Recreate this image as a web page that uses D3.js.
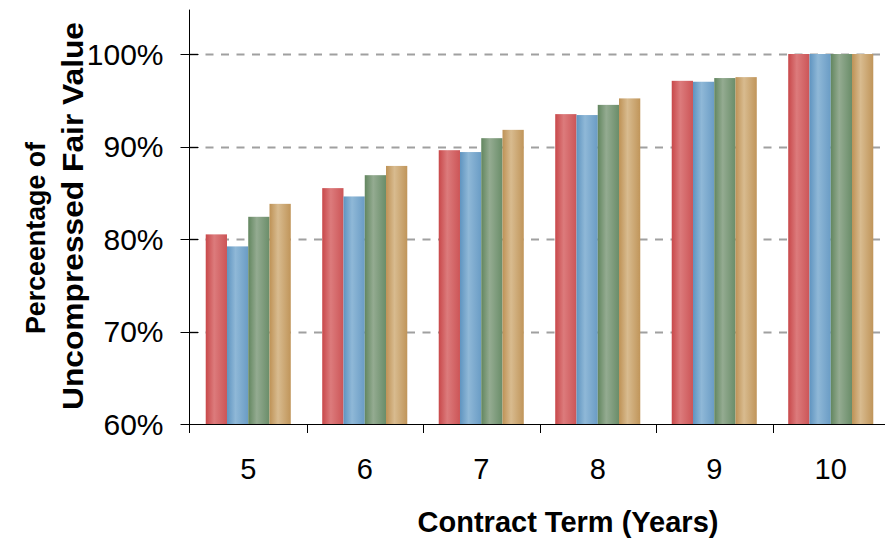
<!DOCTYPE html>
<html>
<head>
<meta charset="utf-8">
<script src="https://cdn.jsdelivr.net/npm/d3@7/dist/d3.min.js"></script>
<style>
  html, body { margin: 0; padding: 0; background: #fff; }
  svg { display: block; font-family: "Liberation Sans", Arial, sans-serif; }
</style>
</head>
<body>
<svg id="chart" width="885" height="542"></svg>
<script>
// Contract terms (years) on the x axis
const terms = ["5", "6", "7", "8", "9", "10"];
// Four series, value as percentage of uncompressed fair value
const seriesNames = ["A", "B", "C", "D"];
const seriesA = [80.5, 85.5, 89.6, 93.5, 97.1, 100];
const seriesB = [79.2, 84.6, 89.4, 93.4, 97.0, 100];
const seriesC = [82.4, 86.9, 90.9, 94.5, 97.4, 100];
const seriesD = [83.8, 87.9, 91.8, 95.2, 97.5, 100];
const yTicks = [60, 70, 80, 90, 100];
const yTickLabels = ["60%", "70%", "80%", "90%", "100%"];

const seriesValues = [seriesA, seriesB, seriesC, seriesD];
// gradient colours per series: [left edge, highlight, right edge]
const palette = [
  ["#c8484a", "#dc7b7c", "#cc5557"],
  ["#5f94c0", "#8fb8d7", "#6a9cc5"],
  ["#62865f", "#94ab91", "#6a8d69"],
  ["#be9256", "#d8bb8f", "#c0955a"]
];

const svg = d3.select("#chart");
const plotLeft = 190, plotRight = 889, plotBottom = 424;
const yMax = 104.8;

const x0 = d3.scaleBand().domain(terms).range([plotLeft, plotRight]).paddingInner(0.27).paddingOuter(0.135);
const x1 = d3.scaleBand().domain(seriesNames).range([0, x0.bandwidth()]);
const xTicks = d3.scaleBand().domain(terms).range([plotLeft, plotRight]);
const y = d3.scaleLinear().domain([60, yMax]).range([plotBottom, plotBottom - (yMax - 60) * 9.25]);

// gradients
const defs = svg.append("defs");
palette.forEach((c, i) => {
  const g = defs.append("linearGradient").attr("id", "grad" + i)
    .attr("x1", "0%").attr("x2", "100%").attr("y1", "0%").attr("y2", "0%");
  g.append("stop").attr("offset", "0%").attr("stop-color", c[0]);
  g.append("stop").attr("offset", "40%").attr("stop-color", c[1]);
  g.append("stop").attr("offset", "100%").attr("stop-color", c[2]);
});

// dashed gridlines
svg.append("g").selectAll("line")
  .data(yTicks.filter(t => t > 60))
  .join("line")
  .attr("x1", plotLeft).attr("x2", 885)
  .attr("y1", d => Math.round(y(d)) + 0.5).attr("y2", d => Math.round(y(d)) + 0.5)
  .attr("stroke", "#a0a0a0").attr("stroke-width", 1.8)
  .attr("stroke-dasharray", "8,7.5");

// bars
const groups = svg.append("g").selectAll("g")
  .data(terms)
  .join("g")
  .attr("transform", d => `translate(${x0(d)},0)`);

groups.selectAll("rect")
  .data((d, i) => seriesNames.map((s, j) => ({ s, j, v: seriesValues[j][i] })))
  .join("rect")
  .attr("x", d => x1(d.s))
  .attr("width", x1.bandwidth())
  .attr("y", d => y(d.v))
  .attr("height", d => y(60) - y(d.v))
  .attr("fill", d => `url(#grad${d.j})`);

// y axis
const yAxis = svg.append("g").attr("transform", `translate(${plotLeft - 0.5},0)`);
yAxis.append("line").attr("x1", 0).attr("x2", 0).attr("y1", y(yMax)).attr("y2", plotBottom)
  .attr("stroke", "#000").attr("stroke-width", 1);
yAxis.selectAll("line.tick").data(yTicks).join("line").attr("class", "tick")
  .attr("x1", -9).attr("x2", 9)
  .attr("y1", d => Math.round(y(d)) + 0.5).attr("y2", d => Math.round(y(d)) + 0.5)
  .attr("stroke", "#000");
yAxis.selectAll("text").data(yTicks).join("text")
  .attr("x", -26).attr("y", d => y(d))
  .attr("dy", "0.35em")
  .attr("text-anchor", "end")
  .attr("font-size", 30)
  .text((d, i) => yTickLabels[i]);

// x axis
const xAxis = svg.append("g");
xAxis.append("line").attr("x1", plotLeft - 1).attr("x2", 885)
  .attr("y1", plotBottom + 0.5).attr("y2", plotBottom + 0.5).attr("stroke", "#000");
xAxis.selectAll("line.tick").data(terms.slice(1)).join("line").attr("class", "tick")
  .attr("x1", d => Math.round(xTicks(d)) + 0.5).attr("x2", d => Math.round(xTicks(d)) + 0.5)
  .attr("y1", plotBottom).attr("y2", plotBottom + 9).attr("stroke", "#000");
xAxis.append("line").attr("x1", plotLeft - 0.5).attr("x2", plotLeft - 0.5)
  .attr("y1", plotBottom).attr("y2", plotBottom + 9).attr("stroke", "#000");
xAxis.selectAll("text").data(terms).join("text")
  .attr("x", d => x0(d) + x0.bandwidth() / 2)
  .attr("y", 479)
  .attr("text-anchor", "middle")
  .attr("font-size", 29)
  .text(d => d);

// axis titles
svg.append("text")
  .attr("x", 568).attr("y", 532)
  .attr("text-anchor", "middle")
  .attr("font-size", 29).attr("font-weight", "bold")
  .text("Contract Term (Years)");

svg.append("text")
  .attr("transform", "translate(45,238) rotate(-90)")
  .attr("text-anchor", "middle")
  .attr("font-size", 28).attr("font-weight", "bold")
  .attr("textLength", 192).attr("lengthAdjust", "spacingAndGlyphs")
  .text("Perceentage of");
svg.append("text")
  .attr("transform", "translate(83,216) rotate(-90)")
  .attr("text-anchor", "middle")
  .attr("font-size", 29).attr("font-weight", "bold")
  .attr("textLength", 388).attr("lengthAdjust", "spacingAndGlyphs")
  .text("Uncompressed Fair Value");
</script>
</body>
</html>
